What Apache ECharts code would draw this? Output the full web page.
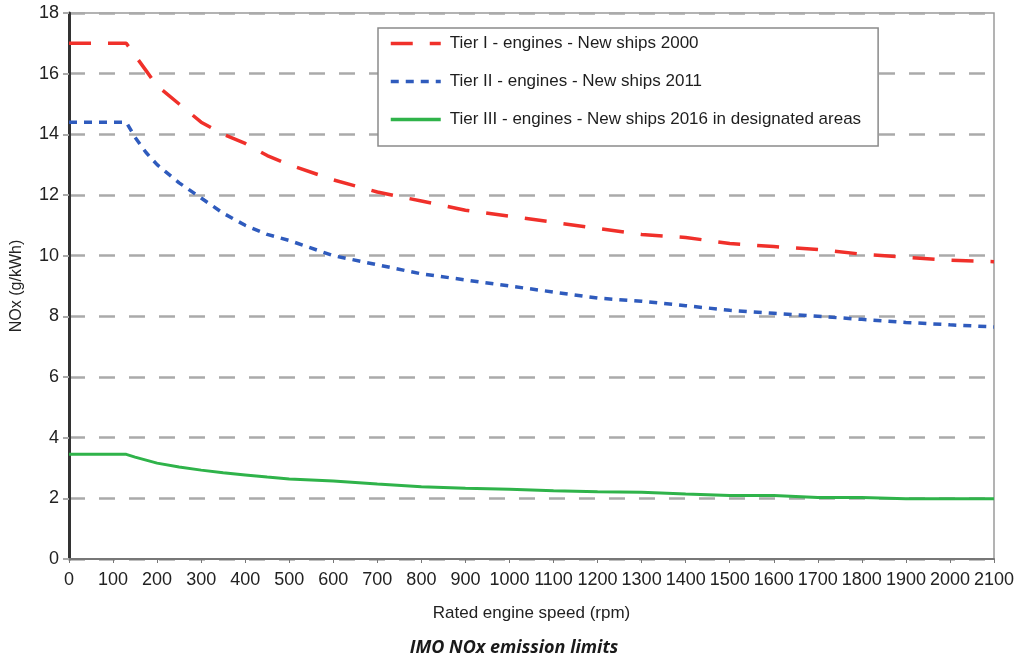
<!DOCTYPE html>
<html>
<head>
<meta charset="utf-8">
<script src="https://cdn.jsdelivr.net/npm/echarts@6/dist/echarts.min.js"></script>
<style>
  html, body { margin: 0; padding: 0; background: #fff; }
  #chart { width: 1028px; height: 662px; }
</style>
</head>
<body>
<div id="chart"></div>
<script>
// rated engine speed (rpm)
const speeds = [0, 130, 150, 175, 200, 250, 300, 350, 400, 450, 500, 600, 700, 800, 900, 1000, 1100, 1200, 1300, 1400, 1500, 1600, 1700, 1800, 1900, 2000, 2100]
// NOx limits (g/kWh)
const tier1 = [17.0, 17.0, 16.6, 16.1, 15.6, 15.0, 14.4, 14.0, 13.7, 13.3, 13.0, 12.5, 12.1, 11.8, 11.5, 11.3, 11.1, 10.9, 10.7, 10.6, 10.4, 10.3, 10.2, 10.05, 9.95, 9.85, 9.8]
const tier2 = [14.4, 14.4, 13.9, 13.4, 13.0, 12.4, 11.9, 11.4, 11.0, 10.7, 10.5, 10.0, 9.7, 9.4, 9.2, 9.0, 8.8, 8.6, 8.5, 8.35, 8.2, 8.1, 8.0, 7.9, 7.8, 7.72, 7.65]
const tier3 = [3.45, 3.45, 3.36, 3.26, 3.16, 3.03, 2.93, 2.84, 2.77, 2.7, 2.64, 2.57, 2.47, 2.38, 2.33, 2.3, 2.25, 2.22, 2.2, 2.14, 2.09, 2.09, 2.03, 2.03, 1.99, 1.99, 1.99]
const seriesNames = [
  'Tier I - engines - New ships 2000',
  'Tier II - engines - New ships 2011',
  'Tier III - engines - New ships 2016 in designated areas',
]

const pairs = (vals) => speeds.map((s, i) => [s, vals[i]])
const font = 'Liberation Sans, Arial, sans-serif'

const chart = echarts.init(document.getElementById('chart'))

chart.setOption({
  animation: false,
  title: {
    text: 'IMO NOx emission limits',
    left: 'center',
    top: 634,
    textStyle: {
      fontFamily: 'Open Sans',
      fontStyle: 'italic',
      fontWeight: 'bold',
      fontSize: 18,
      color: '#1a1a1a',
    },
  },
  grid: {
    left: 69,
    right: 34,
    top: 13,
    bottom: 103,
    show: true,
    borderColor: '#9a9a9a',
    borderWidth: 1.5,
  },
  legend: {
    orient: 'vertical',
    left: 378,
    top: 28,
    padding: [7, 17, 18, 11],
    itemWidth: 50,
    itemHeight: 14,
    itemGap: 21,
    backgroundColor: '#fff',
    borderColor: '#8a8a8a',
    borderWidth: 1.5,
    itemStyle: { opacity: 0 },
    lineStyle: { width: 3.5 },
    data: seriesNames,
    textStyle: { fontFamily: font, fontSize: 17, color: '#1e1e1e', padding: [0, 0, 0, 4] },
  },
  xAxis: {
    type: 'value',
    min: 0,
    max: 2100,
    interval: 100,
    name: 'Rated engine speed (rpm)',
    nameLocation: 'middle',
    nameGap: 46,
    nameTextStyle: { fontFamily: font, fontSize: 17, color: '#222' },
    axisLine: { lineStyle: { color: '#777', width: 2 } },
    axisTick: { show: true, length: 4, lineStyle: { color: '#777' } },
    axisLabel: {
      fontFamily: font,
      fontSize: 18,
      color: '#222',
      margin: 12,
      formatter: (v) => String(v),
    },
    splitLine: { show: false },
  },
  yAxis: {
    type: 'value',
    min: 0,
    max: 18,
    interval: 2,
    name: 'NOx (g/kWh)',
    nameLocation: 'middle',
    nameGap: 44,
    nameTextStyle: { fontFamily: font, fontSize: 16, color: '#222' },
    axisLine: { show: true, lineStyle: { color: '#333', width: 3 } },
    axisTick: { show: true, length: 6, lineStyle: { color: '#aaa', width: 2 } },
    axisLabel: { fontFamily: font, fontSize: 18, color: '#222', margin: 10 },
    splitLine: {
      show: true,
      lineStyle: { color: '#aaa', width: 2.5, type: [16, 14] },
    },
  },
  series: [
    {
      name: seriesNames[0],
      type: 'line',
      data: pairs(tier1),
      symbol: 'none',
      color: '#f0302a',
      lineStyle: { width: 3.5, type: [22, 17] },
    },
    {
      name: seriesNames[1],
      type: 'line',
      data: pairs(tier2),
      symbol: 'none',
      color: '#2f5bbd',
      lineStyle: { width: 3.5, type: [8, 7] },
    },
    {
      name: seriesNames[2],
      type: 'line',
      data: pairs(tier3),
      symbol: 'none',
      color: '#2fb34a',
      lineStyle: { width: 3 },
    },
  ],
})
</script>
</body>
</html>
